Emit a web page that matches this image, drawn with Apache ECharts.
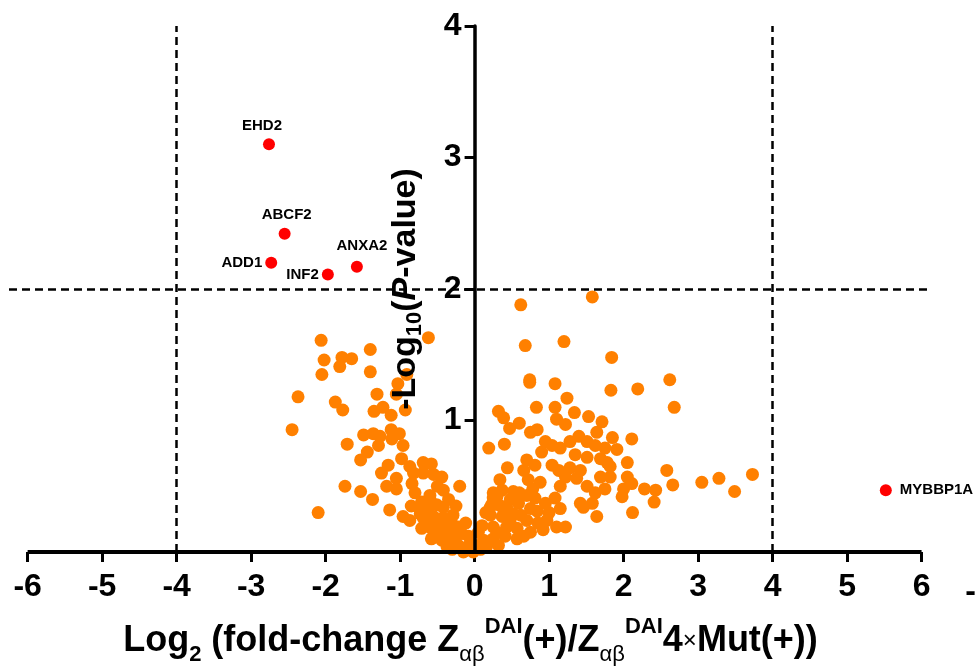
<!DOCTYPE html>
<html>
<head>
<meta charset="utf-8">
<script src="https://cdn.jsdelivr.net/npm/echarts@6/dist/echarts.min.js"></script>
<style>
html, body { margin: 0; padding: 0; background: #fff; }
#chart { width: 976px; height: 668px; }
</style>
</head>
<body>
<div id="chart"></div>
<script>
// labelled hits: x = log2 fold change, y = -log10(p)
const hitNames = ['EHD2', 'ABCF2', 'ADD1', 'INF2', 'ANXA2', 'MYBBP1A'];
const hitX = [-2.76, -2.55, -2.73, -1.97, -1.58, 5.52];
const hitY = [3.10, 2.42, 2.20, 2.11, 2.17, 0.47];

// other proteins, negative fold change side
const leftPts = [
  [-2.06,1.61],[-2.02,1.46],[-2.05,1.35],[-1.78,1.48],[-1.65,1.47],[-1.81,1.41],[-1.40,1.54],[-1.40,1.37],
  [-2.37,1.18],[-1.87,1.14],[-1.77,1.08],[-1.31,1.20],[-2.45,0.93],[-1.35,1.07],[-1.23,1.10],[-1.12,1.04],
  [-0.93,1.08],[-1.05,1.20],[-1.03,1.28],[-0.91,1.35],[-0.62,1.63],[-1.49,0.89],[-1.36,0.90],[-1.27,0.88],
  [-1.12,0.93],[-1.01,0.90],[-1.11,0.86],[-1.29,0.81],[-0.96,0.81],[-1.71,0.82],[-1.44,0.76],[-1.53,0.70],
  [-0.98,0.71],[-1.16,0.66],[-1.25,0.60],[-0.87,0.65],[-0.69,0.68],[-0.58,0.67],[-0.82,0.60],[-0.69,0.60],
  [-0.55,0.59],[-0.44,0.57],[-0.84,0.52],[-1.05,0.56],[-1.18,0.50],[-1.05,0.48],[-1.74,0.50],[-1.53,0.46],
  [-1.37,0.40],[-0.42,0.47],[-0.20,0.50],[-2.10,0.30],[-1.14,0.32],[-0.96,0.27],[-0.87,0.24],[-0.60,0.43],
  [-0.64,0.34],[-0.73,0.29],[-0.29,0.28],[-0.71,0.38],[-0.60,0.40],[-0.73,0.32],[-0.62,0.33],[-0.51,0.36],
  [-0.42,0.34],[-0.69,0.26],[-0.55,0.27],[-0.42,0.26],[-0.71,0.18],[-0.58,0.18],[-0.44,0.19],[-0.31,0.22],
  [-0.22,0.19],[-0.58,0.10],[-0.44,0.09],[-0.31,0.12],[-0.17,0.14],[-0.08,0.12],[-0.37,0.04],[-0.22,0.05],
  [-0.10,0.04],[0.01,0.05],[-0.15,0.00],[-0.02,0.00],[-0.50,0.22],[-0.36,0.16],[-0.26,0.08],[-0.50,0.12],
  [-0.64,0.22],[-0.64,0.27],[-0.80,0.45],[-0.50,0.50],[-0.35,0.40],[-0.25,0.35],[-0.85,0.35],[-0.30,0.02],
  [-0.12,0.22]
];

// other proteins, positive fold change side
const rightPts = [
  [0.62,1.88],[1.58,1.94],[0.68,1.57],[1.20,1.60],[1.84,1.48],[0.74,1.31],[0.74,1.29],[1.08,1.28],
  [1.24,1.17],[1.83,1.23],[2.19,1.24],[2.62,1.31],[2.68,1.10],[0.83,1.10],[1.08,1.10],[1.34,1.06],
  [0.32,1.07],[0.39,1.02],[0.47,0.94],[0.60,0.98],[1.10,1.01],[1.22,0.97],[1.53,1.03],[1.71,0.99],
  [0.75,0.91],[0.84,0.93],[1.64,0.91],[0.19,0.79],[0.40,0.82],[0.95,0.84],[1.04,0.81],[0.90,0.76],
  [1.15,0.79],[1.28,0.84],[1.40,0.88],[1.51,0.84],[1.62,0.81],[1.85,0.87],[1.91,0.78],[1.35,0.74],
  [1.51,0.72],[1.69,0.71],[1.78,0.68],[0.70,0.70],[0.81,0.66],[0.66,0.62],[0.44,0.64],[1.04,0.66],
  [1.13,0.62],[1.28,0.64],[1.42,0.62],[1.22,0.57],[1.37,0.56],[1.69,0.57],[1.82,0.57],[0.72,0.55],
  [0.88,0.53],[1.15,0.50],[0.34,0.55],[0.37,0.47],[0.52,0.46],[1.51,0.50],[1.62,0.45],[1.75,0.48],
  [0.70,0.43],[0.81,0.41],[0.95,0.37],[1.08,0.41],[1.15,0.33],[0.30,0.42],[0.23,0.36],[0.43,0.34],
  [0.59,0.37],[0.75,0.33],[1.42,0.37],[1.58,0.37],[1.46,0.34],[1.64,0.27],[0.21,0.28],[0.37,0.27],
  [0.52,0.29],[0.70,0.24],[0.84,0.31],[0.97,0.24],[1.10,0.19],[1.22,0.19],[0.25,0.19],[0.43,0.19],
  [0.57,0.18],[0.75,0.15],[0.92,0.17],[0.12,0.09],[0.25,0.10],[0.41,0.12],[0.57,0.10],[0.16,0.04],
  [0.32,0.05],[0.21,0.34],[0.25,0.41],[0.25,0.45],
  [2.11,0.86],[1.75,0.79],[2.05,0.68],[2.05,0.57],[2.11,0.52],[2.00,0.48],[1.98,0.42],[2.58,0.62],
  [2.66,0.51],[2.28,0.48],[2.43,0.47],[2.41,0.38],[2.12,0.30],[3.05,0.53],[3.28,0.56],[3.49,0.46],
  [3.73,0.59],[1.82,0.65],
  [0.10,0.20],[0.15,0.30],[0.30,0.15],[0.48,0.25],[0.62,0.28],[0.66,0.12],[0.85,0.22],[1.00,0.30],
  [0.35,0.35],[0.48,0.40],[0.60,0.45],[0.78,0.48],[0.05,0.15],[0.08,0.02]
];

const xTicks = [-6, -5, -4, -3, -2, -1, 0, 1, 2, 3, 4, 5, 6];
const yTicks = [1, 2, 3, 4];
const cutX = [-4, 4];   // fold change cut-offs
const cutY = 2;         // p-value cut-off

const FONT = 'Liberation Sans, Arial, sans-serif';
const NARROW = 'Liberation Sans Narrow, Arial Narrow, Liberation Sans, sans-serif';

// plot area
const W = 976, GL = 9, GR = 44;
const xMin = -6.25, xMax = 6.14;
// shift the y axis from the grid edge to x = 0
const yAxisShift = -(0 - xMin) / (xMax - xMin) * (W - GL - GR);

// where each hit label sits
const labelPlace = {
  EHD2: { position: 'top', offset: [-7, 0] },
  ABCF2: { position: 'top', offset: [2, 0] },
  ANXA2: { position: 'top', offset: [5, -2] },
  ADD1: { position: 'left', distance: 3 },
  INF2: { position: 'left', distance: 3 },
  MYBBP1A: { position: 'right', distance: 8 }
};

const hitData = hitNames.map(function (n, i) {
  return {
    name: n,
    value: [hitX[i], hitY[i]],
    label: Object.assign({ show: true, formatter: n, distance: 5 }, labelPlace[n])
  };
});

const dashed = { color: '#000', width: 2.5, type: [8, 5] };

let myChart = echarts.init(document.getElementById('chart'));
let option = {
  animation: false,
  grid: { left: GL, right: GR, top: 26, bottom: 116, containLabel: false, outerBoundsMode: 'none' },
  xAxis: {
    type: 'value',
    min: xMin,
    max: xMax,
    splitLine: { show: false },
    axisLine: { show: false, onZero: false },
    axisTick: { show: true, customValues: xTicks, length: 10, lineStyle: { color: '#000', width: 3 } },
    axisLabel: {
      customValues: xTicks,
      margin: 19,
      color: '#000',
      fontFamily: NARROW,
      fontWeight: 'bold',
      fontSize: 32
    },
    name: '{b|Log}{s2|2}{b| (fold-change Z}{s|αβ}{p|DAI}{b|(+)/Z}{s|αβ}{p|DAI}{b|4}{m|×}{b|Mut(+))}',
    nameLocation: 'middle',
    nameGap: 64,
    nameTextStyle: {
      color: '#000',
      rich: {
        b: { fontFamily: NARROW, fontWeight: 'bold', fontSize: 36, lineHeight: 50, color: '#000' },
        s2: { fontFamily: NARROW, fontWeight: 'bold', fontSize: 22, lineHeight: 20, verticalAlign: 'bottom', color: '#000' },
        s: { fontFamily: NARROW, fontSize: 22, lineHeight: 20, verticalAlign: 'bottom', color: '#000' },
        p: { fontFamily: NARROW, fontWeight: 'bold', fontSize: 22, lineHeight: 22, verticalAlign: 'top', color: '#000' },
        m: { fontFamily: FONT, fontSize: 24, lineHeight: 50, color: '#000' }
      }
    }
  },
  yAxis: {
    type: 'value',
    min: 0,
    max: 4,
    interval: 1,
    z: 10,
    offset: yAxisShift,
    splitLine: { show: false },
    axisLine: { show: true, onZero: false, lineStyle: { color: '#000', width: 3.5 } },
    axisTick: { show: true, customValues: yTicks, length: 10, lineStyle: { color: '#000', width: 3 } },
    axisLabel: {
      customValues: yTicks,
      margin: 13,
      color: '#000',
      fontFamily: FONT,
      fontWeight: 'bold',
      fontSize: 32
    },
    name: '{b|-Log}{s|10}{b|(}{i|P}{b|-value)}',
    nameLocation: 'middle',
    nameRotate: 90,
    nameGap: 49,
    nameTextStyle: {
      color: '#000',
      rich: {
        b: { fontFamily: FONT, fontWeight: 'bold', fontSize: 34, lineHeight: 40, color: '#000' },
        i: { fontFamily: FONT, fontWeight: 'bold', fontStyle: 'italic', fontSize: 34, lineHeight: 40, color: '#000' },
        s: { fontFamily: FONT, fontWeight: 'bold', fontSize: 22, lineHeight: 22, verticalAlign: 'bottom', color: '#000' }
      }
    }
  },
  graphic: [{
    type: 'text',
    right: 0,
    top: 576,
    style: { text: '-', font: 'bold 32px ' + NARROW, fill: '#000' }
  }],
  series: [
    {
      // cut-off lines and the x axis line
      type: 'scatter',
      z: 1,
      data: [],
      markLine: {
        silent: true,
        symbol: ['none', 'none'],
        label: { show: false },
        data: [
          { xAxis: cutX[0], lineStyle: dashed },
          { xAxis: cutX[1], lineStyle: dashed },
          { yAxis: cutY, lineStyle: dashed },
          [
            { coord: [xTicks[0], 0], lineStyle: { color: '#000', width: 4, type: 'solid' } },
            { coord: [xTicks[xTicks.length - 1], 0] }
          ]
        ]
      }
    },
    {
      type: 'scatter',
      z: 2,
      symbolSize: 13,
      itemStyle: { color: '#FF8000', opacity: 1 },
      data: leftPts.concat(rightPts)
    },
    {
      type: 'scatter',
      z: 3,
      symbolSize: 12,
      itemStyle: { color: '#FF0000', opacity: 1 },
      label: {
        color: '#000',
        fontFamily: FONT,
        fontWeight: 'bold',
        fontSize: 15
      },
      data: hitData
    }
  ]
};
myChart.setOption(option);

window.addEventListener('resize', function () {
  myChart.resize();
}, false);
</script>
</body>
</html>
